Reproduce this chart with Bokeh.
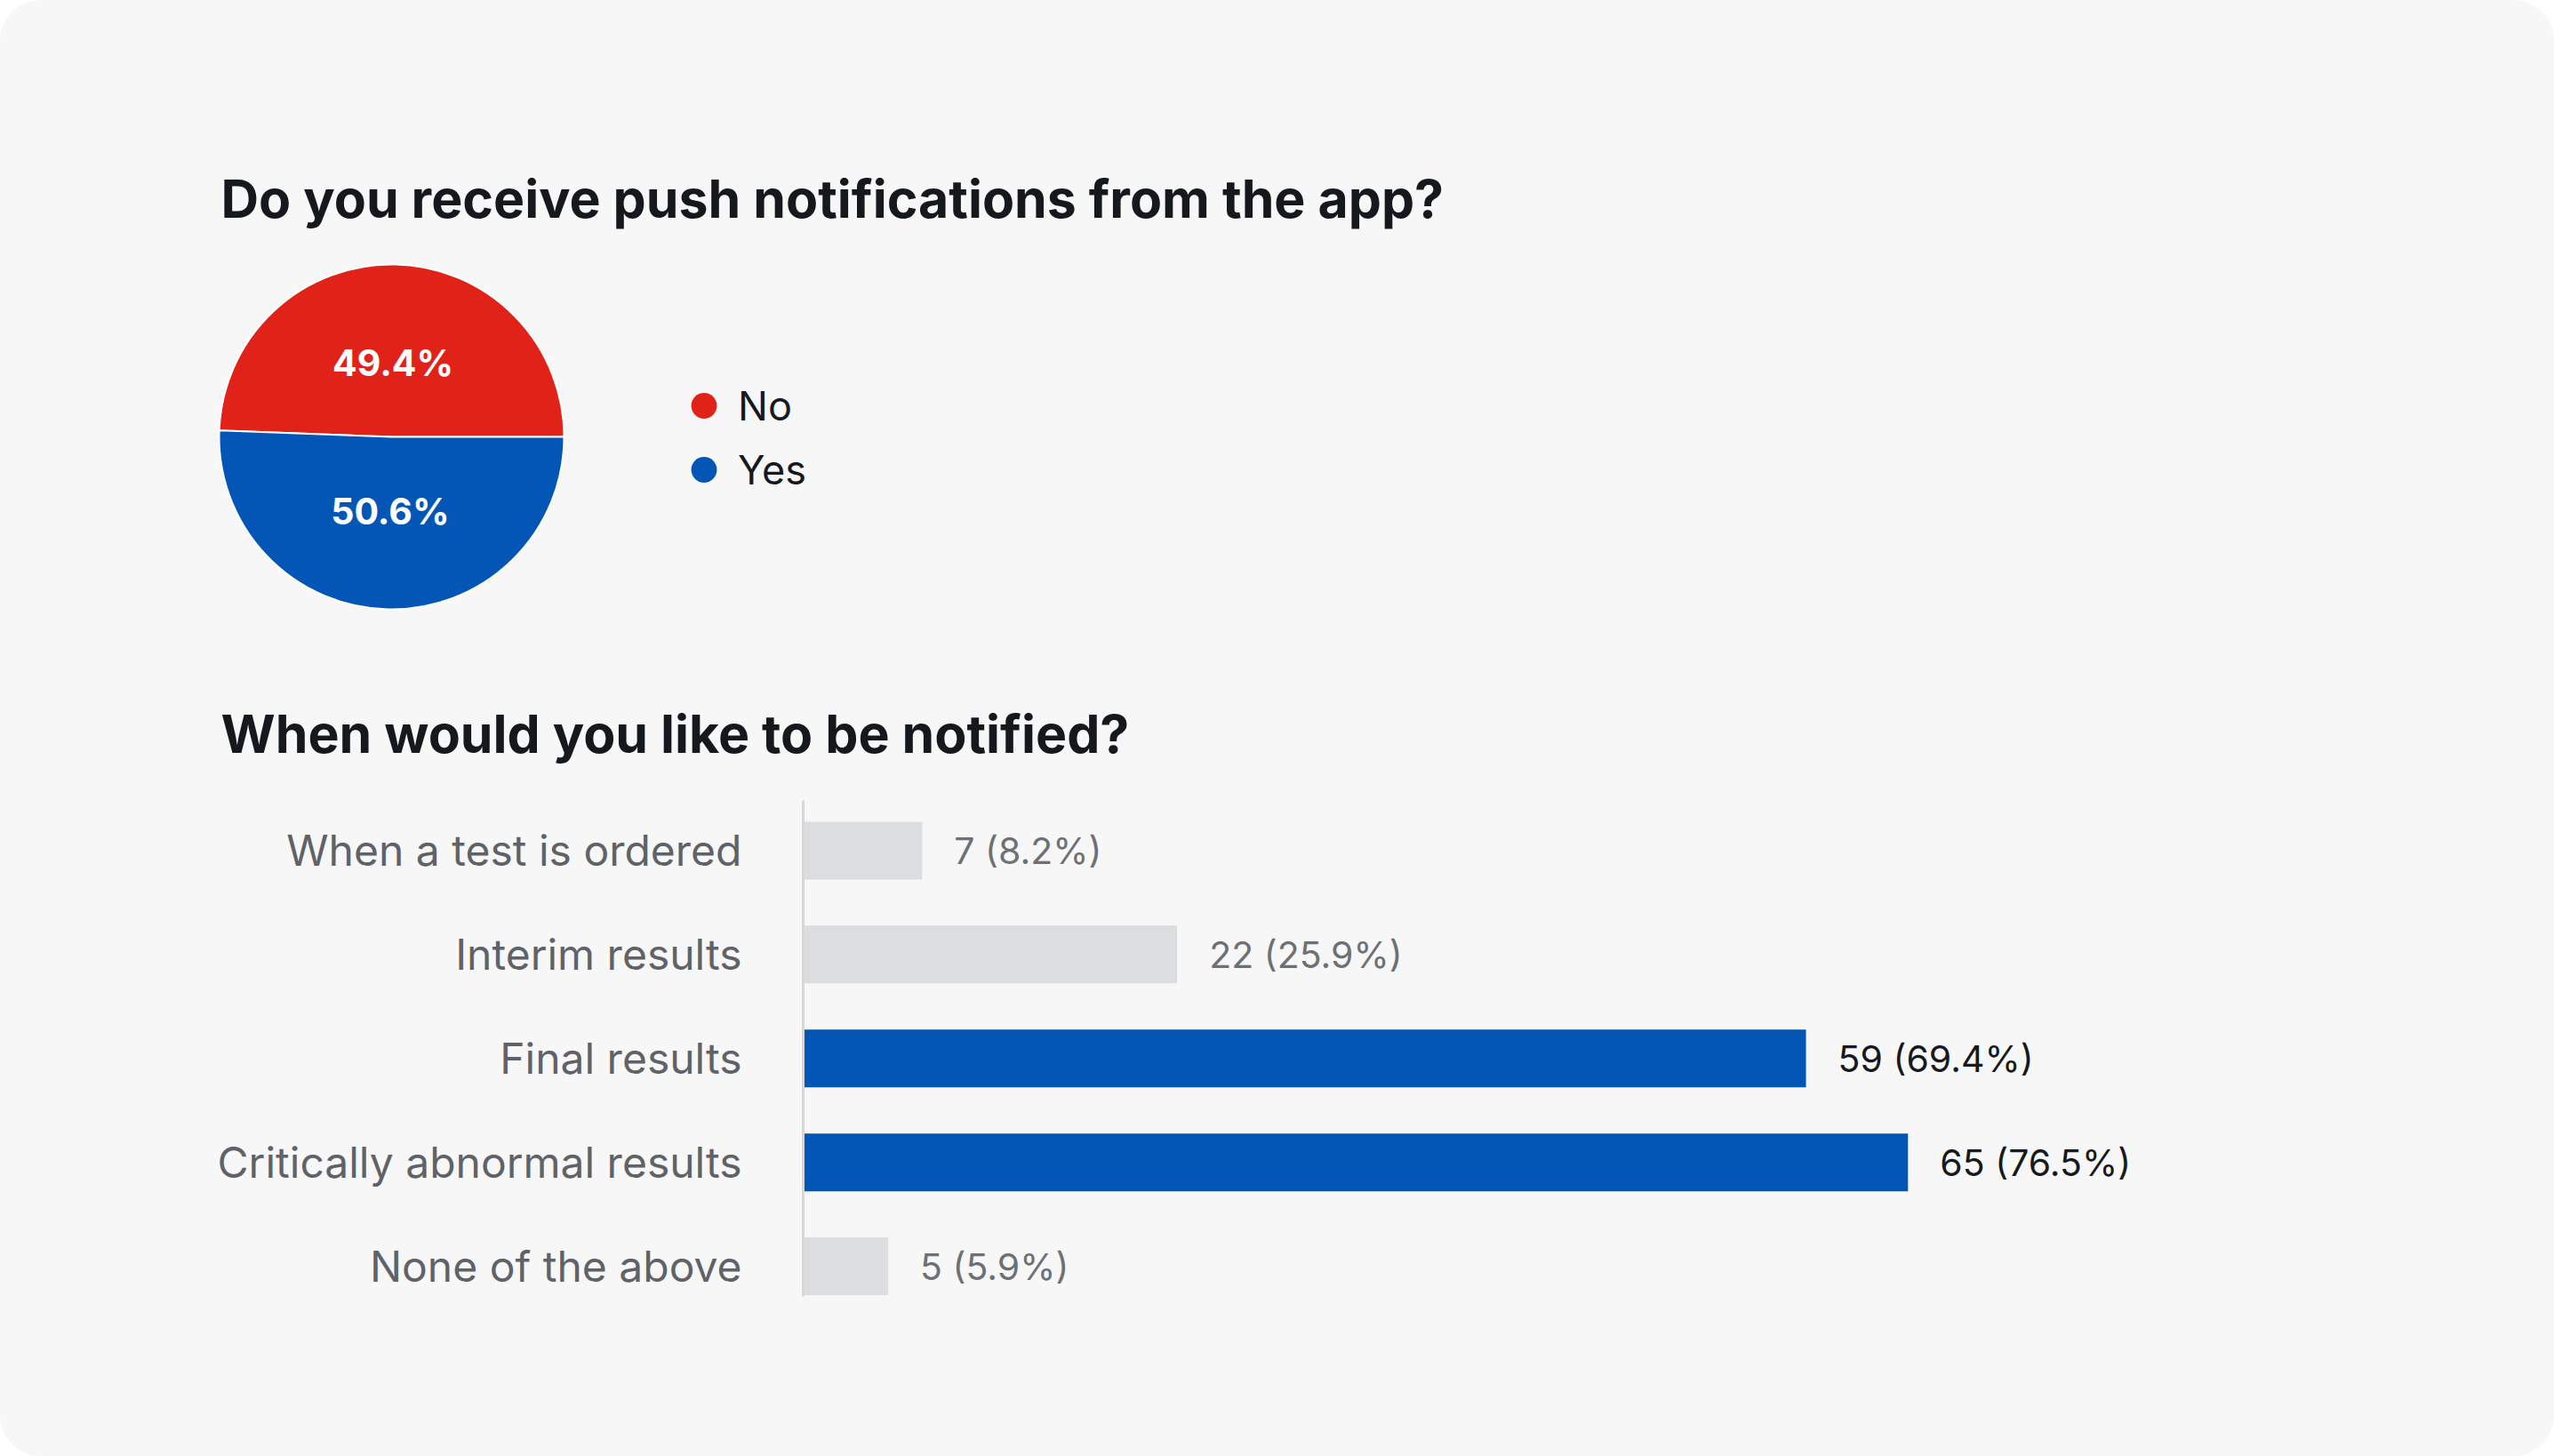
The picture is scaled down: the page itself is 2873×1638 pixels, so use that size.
import numpy as np
from bokeh.plotting import figure
from bokeh.models import (Range1d, ColumnDataSource, Label, Legend, LegendItem,
                          FixedTicker)
from bokeh.layouts import column
from bokeh.embed import file_html
from bokeh.resources import INLINE
from bokeh.core.properties import value

# ---------------- data ----------------
pie_title = "Do you receive push notifications from the app?"
pie_categories = ["No", "Yes"]
pie_percent = [49.4, 50.6]
pie_colors = ["#e02219", "#0356b6"]

bar_title = "When would you like to be notified?"
bar_categories = ["When a test is ordered", "Interim results", "Final results",
                  "Critically abnormal results", "None of the above"]
bar_counts = [7, 22, 59, 65, 5]
bar_percent = [8.2, 25.9, 69.4, 76.5, 5.9]
bar_colors = ["#dcdddf", "#dcdddf", "#0356b6", "#0356b6", "#dcdddf"]
bar_label_colors = ["#6d7075", "#6d7075", "#16191d", "#16191d", "#6d7075"]

# ---------------- layout constants ----------------
W = 2873
H1 = 880
H2 = 758
BG = "#f7f7f7"
FONT = "Inter"
R_PX = 194.0          # pie radius in pixels
CX, CY = 440.0, 491.0  # pie centre in figure pixels (from left / from top)

# ---------------- top figure: pie ----------------
p1 = figure(width=W, height=H1, output_backend="svg", toolbar_location=None,
            x_range=Range1d(-CX / R_PX, (W - CX) / R_PX),
            y_range=Range1d(-(H1 - CY) / R_PX, CY / R_PX),
            min_border=0, x_axis_location=None, y_axis_location=None,
            background_fill_color=BG, border_fill_color=BG,
            outline_line_color=None)
p1.frame_align = False
p1.grid.visible = False

frac = np.array(pie_percent) / np.sum(pie_percent)
ends = np.cumsum(frac) * 2 * np.pi
starts = np.concatenate([[0.0], ends[:-1]])
mids = (starts + ends) / 2
pie_src = ColumnDataSource(dict(cat=pie_categories, start=starts, end=ends,
                                color=pie_colors,
                                lx=0.433 * np.cos(mids), ly=0.433 * np.sin(mids),
                                txt=[f"{v:.1f}%" for v in pie_percent]))
p1.wedge(x=0, y=0, radius=1, start_angle="start", end_angle="end",
         fill_color="color", line_color="white", line_width=2, source=pie_src)
p1.text(x="lx", y="ly", text="txt", source=pie_src, text_align="center",
        text_baseline="middle", text_color="white", text_font=value(FONT),
        text_font_size="41px", text_font_style="bold")

# legend markers (drawn only in the legend)
leg_items = []
for i, c in enumerate(pie_categories):
    r = p1.scatter(x=[np.nan], y=[np.nan], marker="circle", size=10,
                   fill_color=pie_colors[i], line_color=None)
    leg_items.append(LegendItem(label=c, renderers=[r]))
legend = Legend(items=leg_items, location=(754, 316), orientation="vertical",
                glyph_width=75, glyph_height=72, spacing=0, padding=0, margin=0,
                label_standoff=1, label_text_font=FONT,
                label_text_font_size="45px", label_text_color="#16191d",
                border_line_color=None, background_fill_alpha=0)
p1.add_layout(legend, "center")

p1.add_layout(Label(x=248, y=H1 - 223, x_units="screen", y_units="screen",
                    text=pie_title, text_font=FONT, text_font_size="59px",
                    text_font_style="bold", text_color="#15191d",
                    text_baseline="middle"))
p1.add_layout(Label(x=248, y=H1 - 825, x_units="screen", y_units="screen",
                    text=bar_title, text_font=FONT, text_font_size="59px",
                    text_font_style="bold", text_color="#15191d",
                    text_baseline="middle"))

# ---------------- bottom figure: bars ----------------
ypos = np.arange(len(bar_categories))
p2 = figure(width=W, height=H2, output_backend="svg", toolbar_location=None,
            x_range=Range1d(0, 100), y_range=Range1d(4.29, -0.483),
            x_axis_location=None,
            min_border_left=903, min_border_right=58,
            min_border_top=20, min_border_bottom=180,
            background_fill_color=BG, border_fill_color=BG,
            outline_line_color=None)
p2.frame_align = False
p2.grid.visible = False

bar_src = ColumnDataSource(dict(y=ypos, count=bar_counts, color=bar_colors,
                                lcolor=bar_label_colors,
                                txt=[f"{c} ({p:.1f}%)" for c, p in zip(bar_counts, bar_percent)]))
p2.hbar(y="y", left=0, right="count", height=0.556, fill_color="color",
        line_color=None, source=bar_src)
p2.text(x="count", y="y", text="txt", source=bar_src, x_offset=36,
        text_baseline="middle", text_align="left", text_color="lcolor",
        text_font=value(FONT), text_font_size="41px")

ax = p2.yaxis[0]
ax.ticker = FixedTicker(ticks=list(ypos))
ax.major_label_overrides = {int(i): c for i, c in zip(ypos, bar_categories)}
ax.major_label_text_font = FONT
ax.major_label_text_font_size = "48px"
ax.major_label_text_color = "#5f6368"
ax.major_label_standoff = 69
ax.major_tick_out = 0
ax.major_tick_in = 0
ax.major_tick_line_color = None
ax.minor_tick_line_color = None
ax.axis_line_color = "#d6d7d9"
ax.axis_line_width = 3

layout = column(p1, p2, spacing=0,
                styles={"border-radius": "46px", "overflow": "hidden",
                        "background-color": BG})

open("out.html", "w").write(file_html(layout, INLINE))
